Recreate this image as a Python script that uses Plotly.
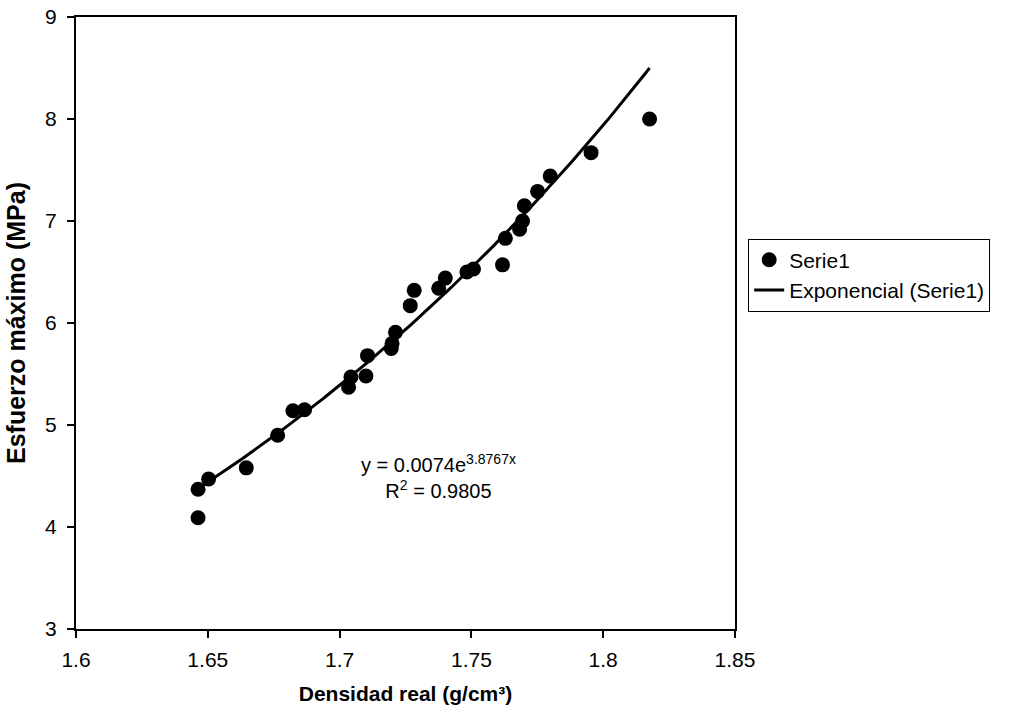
import numpy as np
import plotly.graph_objects as go

# Measured specimens: real density (g/cm³) vs. maximum stress (MPa)
densidad = [1.6463, 1.6463, 1.6503, 1.6646, 1.6765, 1.6823, 1.6867, 1.7034,
            1.7043, 1.7100, 1.7106, 1.7196, 1.7199, 1.7212, 1.7268, 1.7283,
            1.7376, 1.7401, 1.7483, 1.7508, 1.7618, 1.7629, 1.7683, 1.7694,
            1.7701, 1.7751, 1.7799, 1.7954, 1.8176]
esfuerzo = [4.09, 4.37, 4.47, 4.58, 4.90, 5.14, 5.15, 5.37,
            5.47, 5.48, 5.68, 5.75, 5.80, 5.91, 6.17, 6.32,
            6.34, 6.44, 6.50, 6.53, 6.57, 6.83, 6.92, 7.00,
            7.15, 7.29, 7.44, 7.67, 8.00]

# Exponential fit y = a * exp(b x)
coef_a = 0.0074
coef_b = 3.8767
r2 = 0.9805

x_fit = np.linspace(min(densidad), max(densidad), 200)
y_fit = coef_a * np.exp(coef_b * x_fit)

font_family = "Liberation Sans, Arial, sans-serif"

fig = go.Figure()
fig.add_trace(go.Scatter(
    x=densidad, y=esfuerzo, mode="markers", name="Serie1",
    marker=dict(color="black", size=15, line=dict(width=0)),
))
fig.add_trace(go.Scatter(
    x=x_fit, y=y_fit, mode="lines", name="Exponencial (Serie1)",
    line=dict(color="black", width=3),
))

fig.add_annotation(
    x=1.7374, y=4.50, xref="x", yref="y",
    text=f"y = {coef_a}e<sup>{coef_b}x</sup><br>R<sup>2</sup> = {r2}",
    showarrow=False, align="center",
    font=dict(family=font_family, size=20, color="black"),
)

axis_common = dict(
    showgrid=False, zeroline=False, showline=True, linecolor="black",
    linewidth=2, mirror=True, ticks="outside", ticklen=7, tickwidth=1.5,
    tickcolor="black", automargin=False,
    tickfont=dict(family=font_family, size=21, color="black"),
)

fig.update_xaxes(
    range=[1.6, 1.85], tickvals=[1.6, 1.65, 1.7, 1.75, 1.8, 1.85],
    ticktext=["1.6", "1.65", "1.7", "1.75", "1.8", "1.85"],
    ticklabelstandoff=4,
    title=dict(text="<b>Densidad real (g/cm³)</b>", standoff=16,
               font=dict(family=font_family, size=21, color="black")),
    **axis_common,
)
fig.update_yaxes(
    range=[3, 9], tickvals=[3, 4, 5, 6, 7, 8, 9],
    ticklabelstandoff=6,
    title=dict(text="<b>Esfuerzo máximo (MPa)</b>", standoff=12,
               font=dict(family=font_family, size=25, color="black")),
    **axis_common,
)

fig.update_layout(
    width=1012, height=713,
    margin=dict(l=76, r=277, t=17, b=84),
    plot_bgcolor="white", paper_bgcolor="white",
    legend=dict(
        x=1.02, y=0.638, xanchor="left", yanchor="top",
        bordercolor="black", borderwidth=1, bgcolor="white",
        font=dict(family=font_family, size=21, color="black"),
        itemwidth=30, tracegroupgap=0,
    ),
)

fig.write_html("out.html")
